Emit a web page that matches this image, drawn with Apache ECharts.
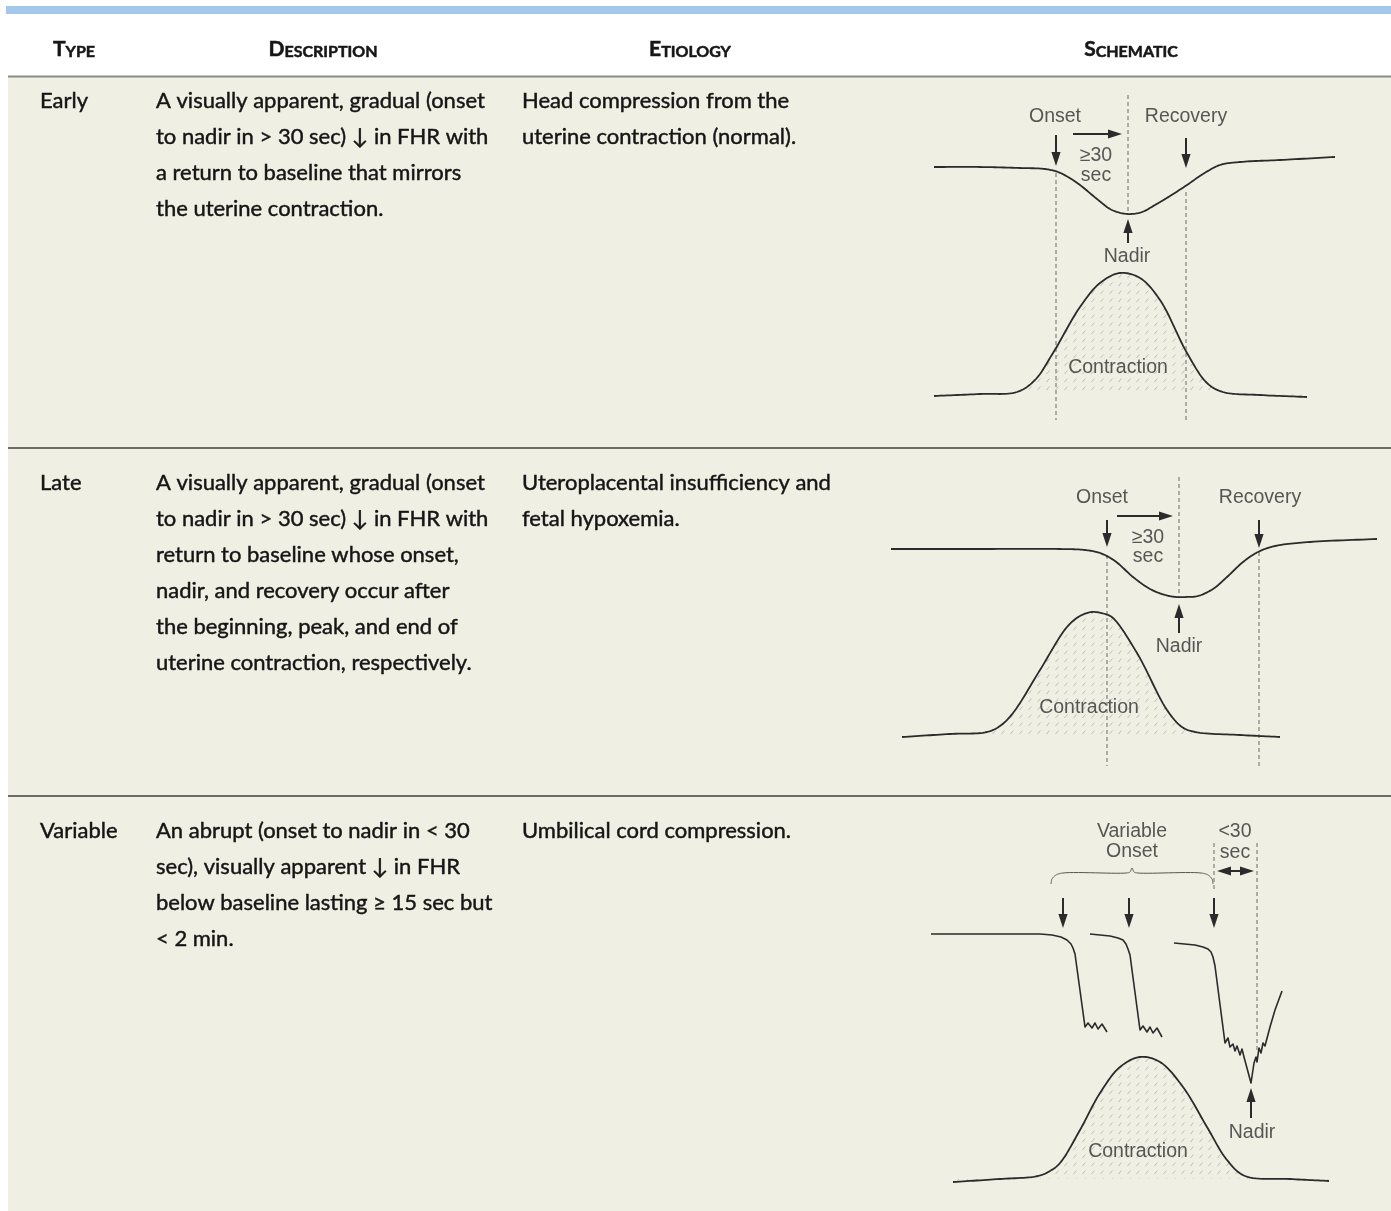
<!DOCTYPE html>
<html><head><meta charset="utf-8">
<script src="https://cdn.jsdelivr.net/npm/echarts@6/dist/echarts.min.js"></script>
<style>html,body{margin:0;padding:0;background:#fff}#c{width:1391px;height:1211px}</style>
</head><body><div id="c"></div>
<script>
// ---------------- table text ----------------
const headerWords = ['Type', 'Description', 'Etiology', 'Schematic'];
const decelTypes = ['Early', 'Late', 'Variable'];
const descriptionLines = [
  ['A visually apparent, gradual (onset', 'to nadir in > 30 sec) \u2193 in FHR with', 'a return to baseline that mirrors', 'the uterine contraction.'],
  ['A visually apparent, gradual (onset', 'to nadir in > 30 sec) \u2193 in FHR with', 'return to baseline whose onset,', 'nadir, and recovery occur after', 'the beginning, peak, and end of', 'uterine contraction, respectively.'],
  ['An abrupt (onset to nadir in < 30', 'sec), visually apparent \u2193 in FHR', 'below baseline lasting \u2265 15 sec but', '< 2 min.']
];
const etiologyLines = [
  ['Head compression from the', 'uterine contraction (normal).'],
  ['Uteroplacental insufficiency and', 'fetal hypoxemia.'],
  ['Umbilical cord compression.']
];

// ---------------- Early schematic (time, level) ----------------
const earlyFHR = [[34,263],[80,263],[120,262],[145,261],[158,258],[168,253],[180,245],[197,231],[212,220],[228,216],[242,218],[255,225],[270,234],[287,245],[303,256],[320,265],[340,268],[380,270],[435,273]];
const earlyContraction = [[34,34],[80,36],[117,38],[135,50],[153,77],[180,123],[200,147],[220,157],[240,152],[260,130],[287,77],[307,47],[323,38],[360,35],[407,33]];
const earlyGuides = [[156,257,156,10],[228,335,228,216],[286,238,286,10]];
const earlyArrows = [[156,295,156,264,0],[286,292,286,262,0],[173,296,222,296,0],[228,187,228,211,0]];
const earlyLabels = [[155,313,'Onset'],[286,313,'Recovery'],[196,274,'\u226530'],[196,254,'sec'],[227,173,'Nadir'],[218,62,'Contraction']];

// ---------------- Late schematic ----------------
const lateFHR = [[11,231],[100,231],[180,231],[205,230],[220,227],[235,219],[253,203],[270,191],[285,185],[296,183],[306,183],[318,184],[333,191],[347,203],[363,218],[378,228],[395,234],[430,238],[497,241]];
const lateContraction = [[22,43],[70,46],[107,48],[120,54],[133,67],[160,110],[187,153],[200,164],[212,168],[225,166],[233,162],[257,127],[287,70],[302,53],[315,48],[360,45],[400,43]];
const lateGuides = [[227,225,227,14],[299,303,299,183],[379,228,379,14]];
const lateArrows = [[227,260,227,233,0],[379,260,379,232,0],[237,264,293,264,0],[299,147,299,176,0]];
const lateLabels = [[222,282,'Onset'],[380,282,'Recovery'],[268,242,'\u226530'],[268,223,'sec'],[299,133,'Nadir'],[209,72,'Contraction']];

// ---------------- Variable schematic ----------------
const varFHR1 = [[31,266],[140,266],[152,265],[161,263],[167,260],[171,256],[173,252],[175,246],[185,173],[188,177],[192,172],[195,177],[198,171],[202,176],[207,168]];
const varFHR2 = [[190,266],[210,264],[218,262],[223,260],[226,256],[228,251],[230,245],[240,170],[243,174],[247,168],[250,173],[253,167],[257,172],[262,163]];
const varFHR3 = [[274,257],[295,255],[303,253],[308,251],[311,248],[313,243],[315,234],[325,157],[328,162],[330,153],[333,156],[335,149],[337,154],[340,145],[342,151],[344,143],[351,117],[354,137],[356,143],[357,138],[359,152],[361,147],[363,157],[365,154],[370,173],[375,190],[382,209]];
const varContraction = [[53,18],[100,21],[138,24],[150,29],[160,37],[180,70],[200,107],[220,133],[240,143],[260,138],[283,113],[307,73],[327,40],[345,24],[390,21],[429,19]];
const varBrace = [[151,316],[152,321],[156,325],[163,327],[226,327],[230,328],[232,332],[234,328],[238,327],[301,327],[308,325],[312,321],[313,316]];
const varGuides = [[314,357,314,310],[357,357,357,150]];
const varArrows = [[163,302,163,272,0],[229,302,229,272,0],[314,302,314,272,0],[317,329,354,329,1],[351,82,351,112,0]];
const varLabels = [[232,368,'Variable'],[232,348,'Onset'],[335,368,'<30'],[335,347,'sec'],[352,67,'Nadir'],[238,48,'Contraction']];

// ---------------- build ----------------
const INK = '#2b2b2b';
const BODY_FONT = 'Lato';
const LABEL_FONT = '"Liberation Sans", Arial, sans-serif';

const mctx = document.createElement('canvas').getContext('2d');
mctx.font = '21px ' + BODY_FONT;
const wRef = mctx.measureText('A visually apparent, gradual (onset').width;
const bodySize = Math.max(17, Math.min(23, 21 * 329 / wRef));

function hatchPattern() {
  const c = document.createElement('canvas');
  c.width = 9; c.height = 8;
  const g = c.getContext('2d');
  g.strokeStyle = 'rgba(130,130,130,0.5)';
  g.lineWidth = 0.9;
  g.beginPath(); g.moveTo(2.5, 6); g.lineTo(5.5, 2.5); g.stroke();
  return c;
}
const hatch = { image: hatchPattern(), repeat: 'repeat' };

// centripetal Catmull-Rom through pixel points
function spline(pts, n) {
  if (pts.length < 3) return pts;
  const out = [];
  const ext = (a, b) => [2 * a[0] - b[0], 2 * a[1] - b[1]];
  const P = [ext(pts[0], pts[1])].concat(pts, [ext(pts[pts.length - 1], pts[pts.length - 2])]);
  const lerp = (p, q, t0, t1, t) => {
    const d = t1 - t0 || 1e-6;
    const w1 = (t1 - t) / d, w2 = (t - t0) / d;
    return [p[0] * w1 + q[0] * w2, p[1] * w1 + q[1] * w2];
  };
  const dist = (p, q) => Math.max(Math.sqrt(Math.hypot(q[0] - p[0], q[1] - p[1])), 1e-4);
  for (let i = 1; i < P.length - 2; i++) {
    const p0 = P[i - 1], p1 = P[i], p2 = P[i + 1], p3 = P[i + 2];
    const t0 = 0, t1 = t0 + dist(p0, p1), t2 = t1 + dist(p1, p2), t3 = t2 + dist(p2, p3);
    for (let k = (i === 1 ? 0 : 1); k <= n; k++) {
      const t = t1 + (t2 - t1) * k / n;
      const A1 = lerp(p0, p1, t0, t1, t), A2 = lerp(p1, p2, t1, t2, t), A3 = lerp(p2, p3, t2, t3, t);
      const B1 = lerp(A1, A2, t0, t2, t), B2 = lerp(A2, A3, t1, t3, t);
      out.push(lerp(B1, B2, t1, t2, t));
    }
  }
  return out;
}

const grids = [
  { left: 900, top: 90, width: 480, height: 340 },
  { left: 880, top: 470, width: 500, height: 310 },
  { left: 900, top: 810, width: 440, height: 390 }
];
const xAxes = grids.map((g, i) => ({ type: 'value', gridIndex: i, min: 0, max: g.width, show: false }));
const yAxes = grids.map((g, i) => ({ type: 'value', gridIndex: i, min: 0, max: g.height, show: false }));

// smooth curve (and optional hatched area down to a base level) through the data points
function smoothCurve(data, i, opts) {
  opts = opts || {};
  return { type: 'custom', xAxisIndex: i, yAxisIndex: i, data, silent: true, z: opts.z || 5,
    renderItem(params, api) {
      if (params.dataIndex !== 0) return null;
      const px = data.map(d => api.coord(d));
      const pts = opts.smooth === false ? px : spline(px, 14);
      const children = [];
      if (opts.base != null) {
        const by = api.coord([0, opts.base])[1];
        const poly = pts.slice();
        poly.push([pts[pts.length - 1][0], by], [pts[0][0], by]);
        children.push({ type: 'polygon', shape: { points: poly }, style: { fill: hatch } });
      }
      children.push({ type: 'polyline', shape: { points: pts },
        style: { stroke: opts.color || INK, lineWidth: opts.width || 1.8, fill: null, lineJoin: 'round' } });
      return { type: 'group', children };
    } };
}
function guides(data, i) {
  return { type: 'custom', xAxisIndex: i, yAxisIndex: i, data, silent: true, z: 3,
    renderItem(params, api) {
      const a = api.coord([api.value(0), api.value(1)]);
      const b = api.coord([api.value(2), api.value(3)]);
      return { type: 'line', shape: { x1: a[0], y1: a[1], x2: b[0], y2: b[1] },
        style: { stroke: '#6a6a6a', lineWidth: 1, lineDash: [4, 3] } };
    } };
}
function arrows(data, i) {
  return { type: 'custom', xAxisIndex: i, yAxisIndex: i, data, silent: true, z: 6,
    renderItem(params, api) {
      const a = api.coord([api.value(0), api.value(1)]);
      const b = api.coord([api.value(2), api.value(3)]);
      const both = api.value(4) === 1;
      const dx = b[0] - a[0], dy = b[1] - a[1], L = Math.hypot(dx, dy);
      const ux = dx / L, uy = dy / L, hl = 14, hw = 4.6;
      const head = (t, vx, vy) => {
        const bx = t[0] - vx * hl, by = t[1] - vy * hl;
        return { type: 'polygon', shape: { points: [[t[0], t[1]], [bx - vy * hw, by + vx * hw], [bx + vy * hw, by - vx * hw]] },
          style: { fill: INK } };
      };
      const s = both ? [a[0] + ux * (hl - 2), a[1] + uy * (hl - 2)] : a;
      const e = [b[0] - ux * (hl - 2), b[1] - uy * (hl - 2)];
      const children = [{ type: 'line', shape: { x1: s[0], y1: s[1], x2: e[0], y2: e[1] }, style: { stroke: INK, lineWidth: 2 } }, head(b, ux, uy)];
      if (both) children.push(head(a, -ux, -uy));
      return { type: 'group', children };
    } };
}
function labels(data, i) {
  return { type: 'scatter', xAxisIndex: i, yAxisIndex: i, silent: true, z: 7, symbolSize: 1,
    itemStyle: { color: 'rgba(0,0,0,0)' },
    data: data.map(d => ({ value: [d[0], d[1]], name: d[2] })),
    label: { show: true, position: 'inside', formatter: p => p.name, color: '#303030', fontSize: 19.5,
      fontFamily: LABEL_FONT } };
}

const series = [
  smoothCurve(earlyFHR, 0), smoothCurve(earlyContraction, 0, { base: 36, z: 4 }), guides(earlyGuides, 0), arrows(earlyArrows, 0), labels(earlyLabels, 0),
  smoothCurve(lateFHR, 1), smoothCurve(lateContraction, 1, { base: 45, z: 4 }), guides(lateGuides, 1), arrows(lateArrows, 1), labels(lateLabels, 1),
  smoothCurve(varFHR1, 2, { smooth: false, width: 1.6 }), smoothCurve(varFHR2, 2, { smooth: false, width: 1.6 }), smoothCurve(varFHR3, 2, { smooth: false, width: 1.6 }),
  smoothCurve(varContraction, 2, { base: 21, z: 4 }), guides(varGuides, 2), arrows(varArrows, 2), labels(varLabels, 2),
  smoothCurve(varBrace, 2, { color: '#555', width: 1 })
];

// table graphics
const g = [];
g.push({ type: 'rect', shape: { x: 0, y: 0, width: 1391, height: 1211 }, style: { fill: '#ffffff' }, z: -10 });
g.push({ type: 'rect', shape: { x: 8, y: 77, width: 1383, height: 1134 }, style: { fill: '#efefe4' }, z: -9 });
g.push({ type: 'rect', shape: { x: 6, y: 6, width: 1385, height: 8 }, style: { fill: '#a3c8ea' }, z: -8 });
g.push({ type: 'line', shape: { x1: 8, y1: 76.5, x2: 1391, y2: 76.5 }, style: { stroke: '#8a8a86', lineWidth: 2 }, z: -7 });
[448, 796].forEach(y => g.push({ type: 'line', shape: { x1: 8, y1: y, x2: 1391, y2: y }, style: { stroke: '#3f3f3f', lineWidth: 1.6 }, z: -7 }));

const headerX = [74, 323, 690, 1131];
headerWords.forEach((w, k) => {
  g.push({ type: 'text', x: headerX[k], y: 49, z: 1,
    style: { text: '{a|' + w[0].toUpperCase() + '}{b|' + w.slice(1).toUpperCase() + '}',
      align: 'center', verticalAlign: 'middle', fontWeight: 'bold', fontFamily: BODY_FONT, fill: '#161616',
      stroke: '#161616', lineWidth: 0.5,
      rich: { a: { fontSize: 21, fontWeight: 'bold', fontFamily: BODY_FONT, fill: '#161616', lineHeight: 22, verticalAlign: 'bottom' },
              b: { fontSize: 16, fontWeight: 'bold', fontFamily: BODY_FONT, fill: '#161616', lineHeight: 22, verticalAlign: 'bottom' } } } });
});
const rowTop = [101, 483, 831];
const LH = 36;
function bodyText(x, y, t) {
  g.push({ type: 'text', x, y, z: 1, style: { text: t, fontSize: bodySize, fontFamily: BODY_FONT, fill: '#151515',
    stroke: '#151515', lineWidth: 0.45, align: 'left', verticalAlign: 'middle' } });
}
decelTypes.forEach((t, r) => {
  bodyText(40, rowTop[r], t);
  descriptionLines[r].forEach((l, k) => bodyText(156, rowTop[r] + k * LH, l));
  etiologyLines[r].forEach((l, k) => bodyText(522, rowTop[r] + k * LH, l));
});

const chart = echarts.init(document.getElementById('c'), null, { renderer: 'canvas' });
chart.setOption({
  animation: false,
  backgroundColor: '#ffffff',
  grid: grids,
  xAxis: xAxes,
  yAxis: yAxes,
  series,
  graphic: { elements: g }
});
</script></body></html>
